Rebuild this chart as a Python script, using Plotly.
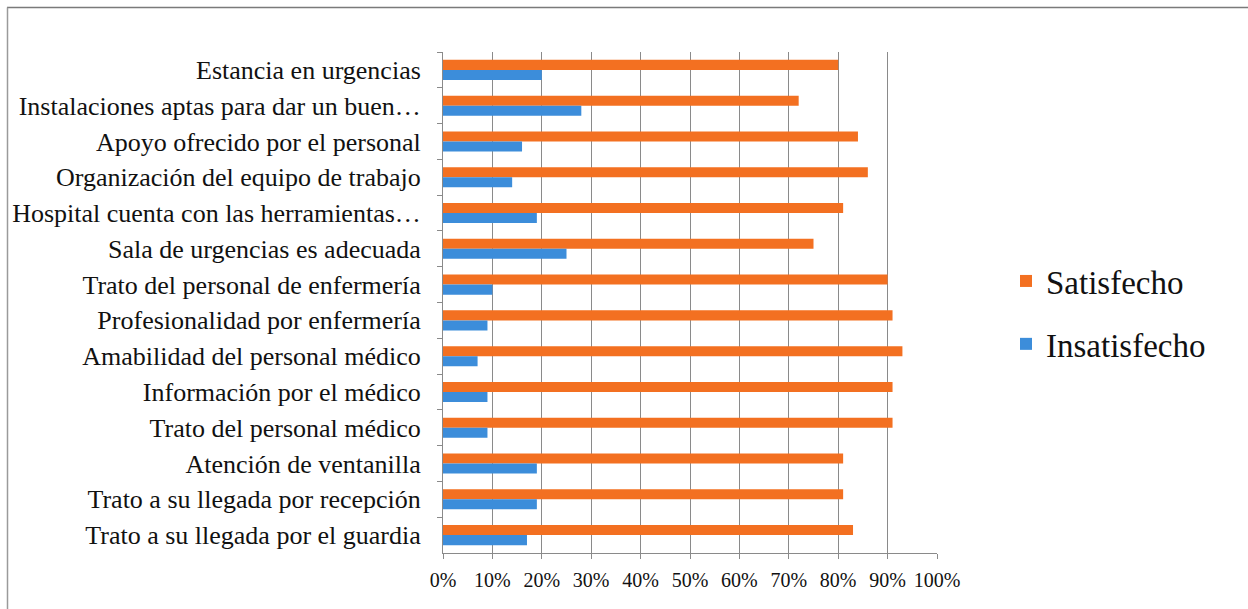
import plotly.graph_objects as go

categories = [
    "Estancia en urgencias",
    "Instalaciones aptas para dar un buen…",
    "Apoyo ofrecido por el personal",
    "Organización del equipo de trabajo",
    "Hospital cuenta con las herramientas…",
    "Sala de urgencias es adecuada",
    "Trato del personal de enfermería",
    "Profesionalidad por enfermería",
    "Amabilidad del personal médico",
    "Información por el médico",
    "Trato del personal médico",
    "Atención de ventanilla",
    "Trato a su llegada por recepción",
    "Trato a su llegada por el guardia",
]
satisfecho = [0.80, 0.72, 0.84, 0.86, 0.81, 0.75, 0.90, 0.91, 0.93, 0.91, 0.91, 0.81, 0.81, 0.83]
insatisfecho = [0.20, 0.28, 0.16, 0.14, 0.19, 0.25, 0.10, 0.09, 0.07, 0.09, 0.09, 0.19, 0.19, 0.17]
tick_vals = [0, 0.1, 0.2, 0.3, 0.4, 0.5, 0.6, 0.7, 0.8, 0.9, 1.0]
tick_text = ["0%", "10%", "20%", "30%", "40%", "50%", "60%", "70%", "80%", "90%", "100%"]

ORANGE = "#F37021"
BLUE = "#3C8DDA"
FONT = "Liberation Serif"

fig = go.Figure()
fig.add_trace(go.Bar(y=categories, x=satisfecho, orientation="h", name="Satisfecho",
                     marker=dict(color=ORANGE, line=dict(width=0)), legendgroup="s"))
fig.add_trace(go.Bar(y=categories, x=insatisfecho, orientation="h", name="Insatisfecho",
                     marker=dict(color=BLUE, line=dict(width=0)), legendgroup="i"))

L, T, R, B = 443, 52, 1248 - 937, 609 - 553
W = 1248 - L - R
H = 609 - T - B

fig.update_layout(
    width=1248, height=609,
    margin=dict(l=L, r=R, t=T, b=B),
    paper_bgcolor="white", plot_bgcolor="white",
    barmode="group", bargap=0.44, bargroupgap=0,
    font=dict(family=FONT, color="#111111"),
    showlegend=True,
    legend=dict(x=(1006 - L) / W, y=(T + H - 253) / H, xanchor="left", yanchor="top",
                font=dict(family=FONT, size=33), traceorder="grouped",
                tracegroupgap=17, bgcolor="rgba(0,0,0,0)"),
    xaxis=dict(range=[0, 1], tickvals=tick_vals, ticktext=tick_text,
               showgrid=True, gridcolor="#8a8a8a", gridwidth=1,
               showline=True, linecolor="#8a8a8a", linewidth=1,
               ticks="outside", ticklen=5, tickcolor="#8a8a8a",
               ticklabelstandoff=4,
               tickfont=dict(family=FONT, size=20), zeroline=False),
    yaxis=dict(autorange="reversed", showline=True, linecolor="#8a8a8a", linewidth=1,
               ticks="outside", ticklen=5, tickcolor="#8a8a8a", tickson="boundaries",
               ticklabelstandoff=16,
               tickfont=dict(family=FONT, size=26), showgrid=False),
    shapes=[
        dict(type="line", xref="paper", yref="paper",
             x0=(7 - L) / W, x1=(1250 - L) / W, y0=1 + (T - 7.5) / H, y1=1 + (T - 7.5) / H,
             line=dict(color="#7a7a7a", width=1.5)),
        dict(type="line", xref="paper", yref="paper",
             x0=(7.5 - L) / W, x1=(7.5 - L) / W, y0=1 + (T - 7.5) / H, y1=-(B + 5) / H,
             line=dict(color="#9a9a9a", width=1.5)),
    ],
)

fig.write_html("out.html")
